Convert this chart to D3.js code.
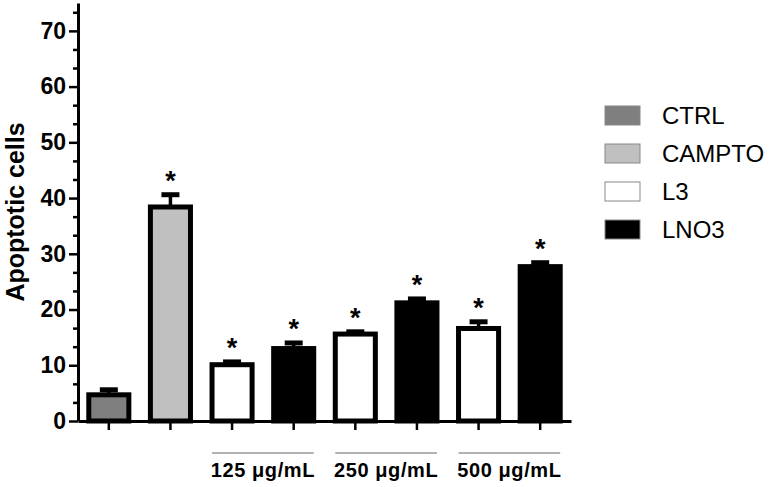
<!DOCTYPE html>
<html>
<head>
<meta charset="utf-8">
<script src="https://cdn.jsdelivr.net/npm/d3@7"></script>
<style>
  body { margin: 0; background: #fff; }
  svg { font-family: "Liberation Sans", Arial, sans-serif; }
</style>
</head>
<body>
<div id="chart"></div>
<script>
// values
const categories = ["CTRL", "CAMPTO", "L3_125", "LNO3_125", "L3_250", "LNO3_250", "L3_500", "LNO3_500"]
const series = ["CTRL", "CAMPTO", "L3", "LNO3", "L3", "LNO3", "L3", "LNO3"]
const values = [4.7, 38.4, 10.1, 13.0, 15.6, 21.2, 16.6, 27.7]
const errors = [0.9, 2.2, 0.5, 1.0, 0.4, 0.7, 1.2, 0.7]
const significant = [false, true, true, true, true, true, true, true]
const groups = [
    { label: "125 \u03bcg/mL", from: "L3_125", to: "LNO3_125" },
    { label: "250 \u03bcg/mL", from: "L3_250", to: "LNO3_250" },
    { label: "500 \u03bcg/mL", from: "L3_500", to: "LNO3_500" }
]
const legendItems = ["CTRL", "CAMPTO", "L3", "LNO3"]
const yTicks = [0, 10, 20, 30, 40, 50, 60, 70]

const width = 774, height = 487

const fills = { CTRL: "#7f7f7f", CAMPTO: "#c0c0c0", L3: "#ffffff", LNO3: "#000000" }

const svg = d3.select("#chart").append("svg")
    .attr("width", width)
    .attr("height", height)

const x = d3.scaleBand()
    .domain(categories)
    .range([78, 571])
    .paddingInner(0.35)
    .paddingOuter(0.175)

const y = d3.scaleLinear()
    .domain([0, 75])
    .range([421, 3])

const data = categories.map((c, i) => ({ cat: c, series: series[i], v: values[i], e: errors[i], sig: significant[i] }))

// bars
svg.append("g")
    .selectAll("rect")
    .data(data)
    .join("rect")
    .attr("x", d => x(d.cat))
    .attr("y", d => y(d.v))
    .attr("width", x.bandwidth())
    .attr("height", d => y(0) - y(d.v))
    .attr("fill", d => fills[d.series])
    .attr("stroke", "#000")
    .attr("stroke-width", 5)

// error bars (upper only)
const err = svg.append("g").selectAll("g")
    .data(data)
    .join("g")
err.append("line")
    .attr("x1", d => x(d.cat) + x.bandwidth() / 2)
    .attr("x2", d => x(d.cat) + x.bandwidth() / 2)
    .attr("y1", d => y(d.v))
    .attr("y2", d => y(d.v + d.e))
    .attr("stroke", "#000")
    .attr("stroke-width", 3.5)
err.append("line")
    .attr("x1", d => x(d.cat) + x.bandwidth() / 2 - 9)
    .attr("x2", d => x(d.cat) + x.bandwidth() / 2 + 9)
    .attr("y1", d => y(d.v + d.e))
    .attr("y2", d => y(d.v + d.e))
    .attr("stroke", "#000")
    .attr("stroke-width", 5)

// asterisks
svg.append("g")
    .selectAll("text")
    .data(data.filter(d => d.sig))
    .join("text")
    .attr("x", d => x(d.cat) + x.bandwidth() / 2)
    .attr("y", d => y(d.v + d.e) - 5)
    .attr("text-anchor", "middle")
    .attr("font-size", 27)
    .attr("font-weight", "bold")
    .text("*")

// y axis
const yAxis = svg.append("g")
    .attr("transform", "translate(78,0)")
    .call(d3.axisLeft(y).tickValues(yTicks).tickSize(9).tickSizeOuter(0).tickPadding(3))
yAxis.select(".domain").attr("stroke-width", 3)
yAxis.selectAll(".tick line").attr("stroke-width", 2.5)
yAxis.selectAll(".tick text")
    .attr("font-size", 23)
    .attr("font-weight", "bold")
    .attr("font-family", "'Liberation Sans', Arial, sans-serif")
    .attr("fill", "#000")

const minorTicks = d3.range(0, 75, 10 / 3).filter(t => Math.abs(t / 10 - Math.round(t / 10)) > 0.01)
svg.append("g")
    .attr("transform", "translate(78,0)")
    .call(d3.axisLeft(y).tickValues(minorTicks).tickSize(5).tickFormat(""))
    .call(g => g.select(".domain").remove())
    .selectAll(".tick line").attr("stroke-width", 2.5)

// x axis
const xAxis = svg.append("g")
    .attr("transform", `translate(0,${y(0)})`)
    .call(d3.axisBottom(x).tickSize(9).tickSizeOuter(0).tickFormat(""))
xAxis.select(".domain").attr("stroke-width", 3)
xAxis.selectAll(".tick line").attr("stroke-width", 2.5)

// y label
svg.append("text")
    .attr("transform", "translate(24,212) rotate(-90)")
    .attr("text-anchor", "middle")
    .attr("font-size", 25)
    .attr("font-weight", "bold")
    .text("Apoptotic cells")

// concentration groups
const grp = svg.append("g").selectAll("g")
    .data(groups)
    .join("g")
grp.append("line")
    .attr("x1", d => x(d.from))
    .attr("x2", d => x(d.to) + x.bandwidth())
    .attr("y1", 453)
    .attr("y2", 453)
    .attr("stroke", "#999")
    .attr("stroke-width", 1.5)
grp.append("text")
    .attr("x", d => (x(d.from) + x(d.to) + x.bandwidth()) / 2)
    .attr("y", 477)
    .attr("text-anchor", "middle")
    .attr("font-size", 20)
    .attr("font-weight", "bold")
    .attr("letter-spacing", 0.6)
    .text(d => d.label)

// legend
const leg = svg.append("g").selectAll("g")
    .data(legendItems)
    .join("g")
    .attr("transform", (d, i) => `translate(605,${106 + i * 38})`)
leg.append("rect")
    .attr("width", 35)
    .attr("height", 19)
    .attr("fill", d => fills[d])
    .attr("stroke", "#888")
    .attr("stroke-width", 1)
leg.append("text")
    .attr("x", 57)
    .attr("y", 9.5)
    .attr("dy", "0.37em")
    .attr("font-size", 24)
    .text(d => d)
</script>
</body>
</html>
